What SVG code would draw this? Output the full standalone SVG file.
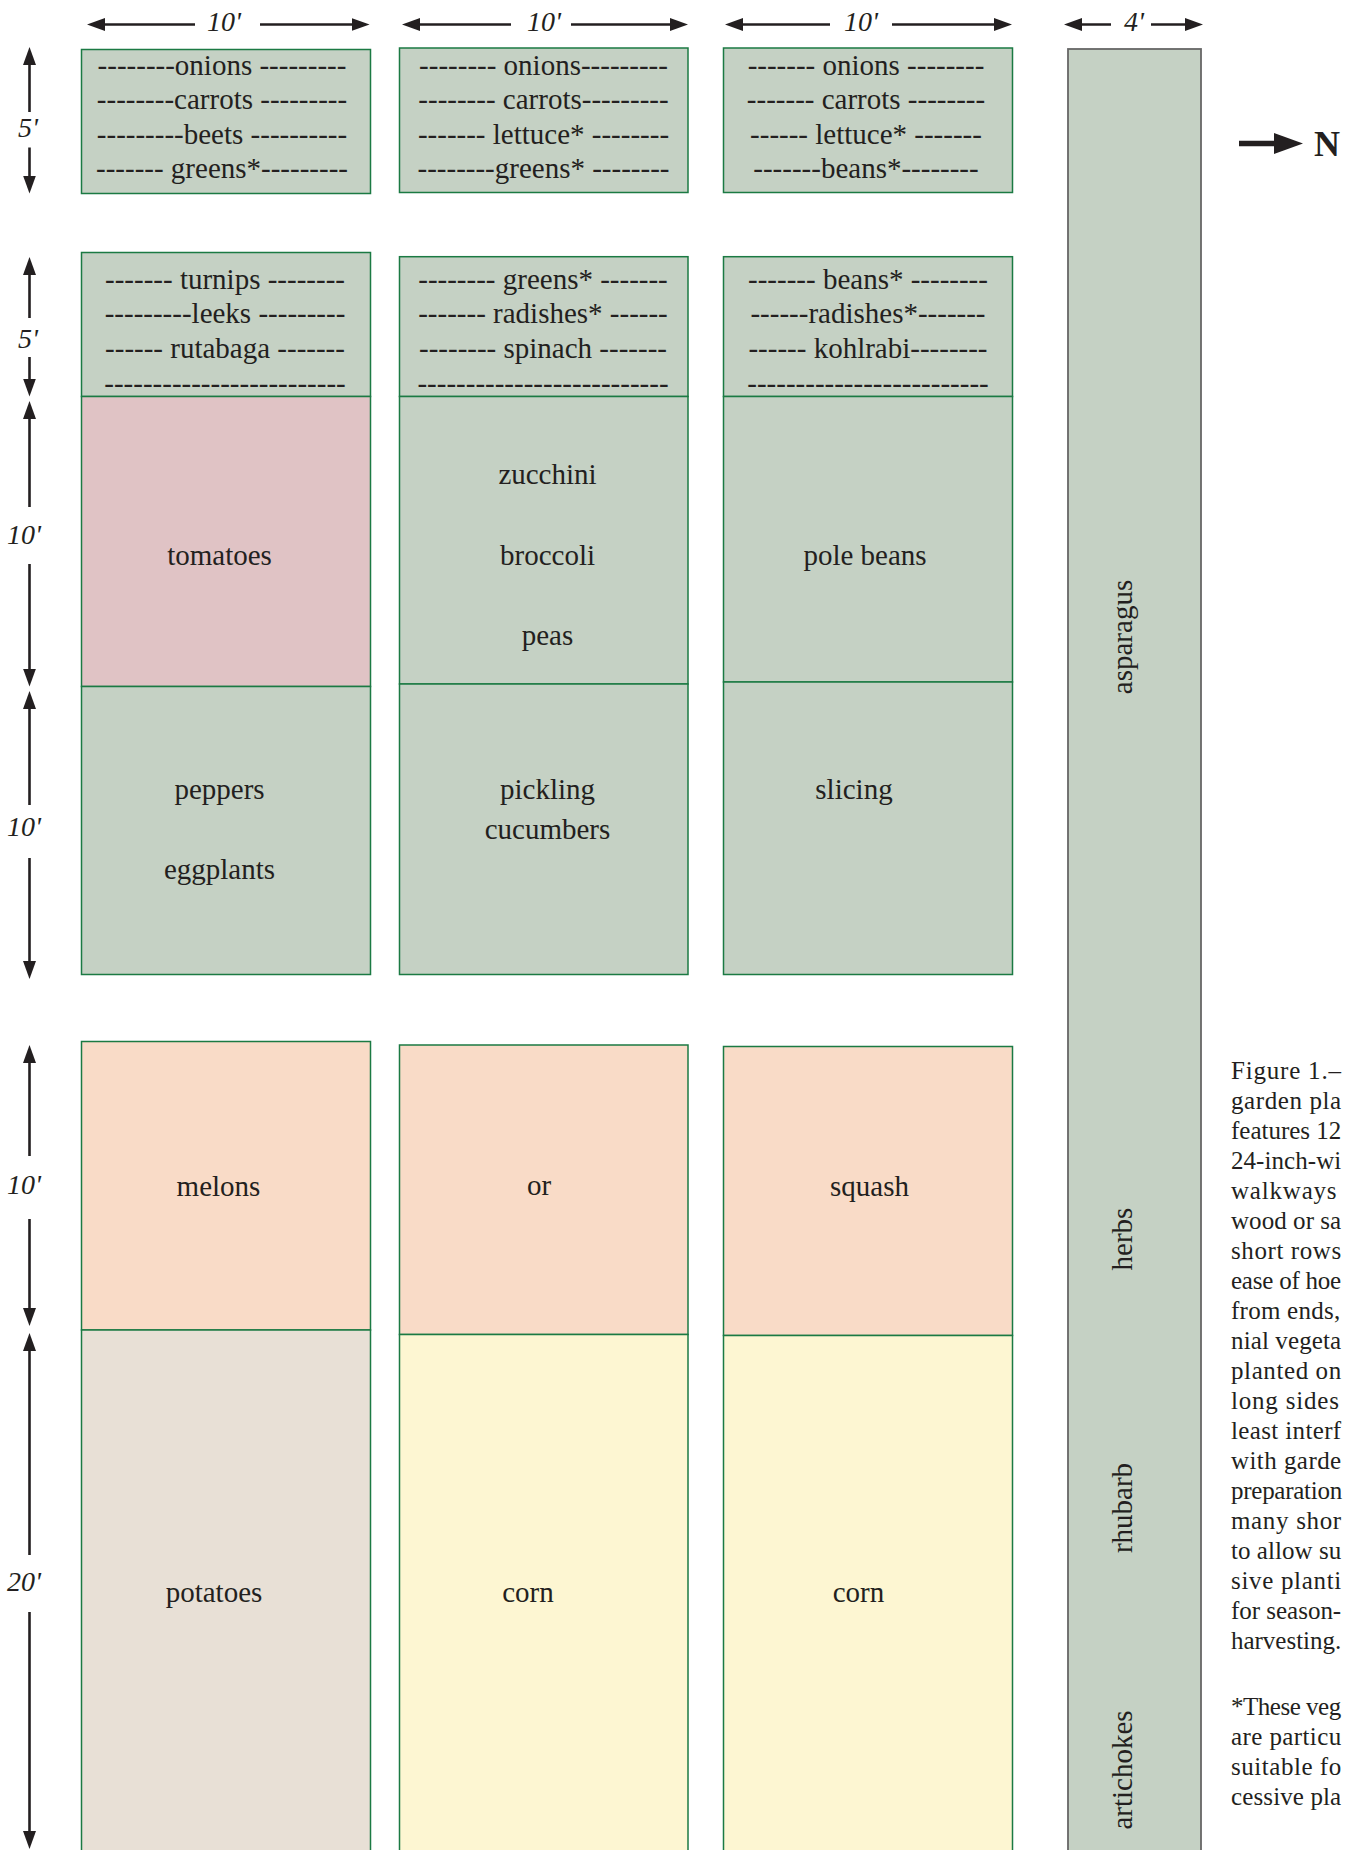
<svg xmlns="http://www.w3.org/2000/svg" width="1345" height="1850" viewBox="0 0 1345 1850">
<style>
.bed{stroke:#1b7a43;stroke-width:1.5}
.sage{fill:#c5d1c4}
.pink{fill:#e0c3c5}
.peach{fill:#f9dbc7}
.potato{fill:#e8e0d6}
.corn{fill:#fdf6d2}
.strip{fill:#c5d1c4;stroke:#666;stroke-width:1.8}
.t{font-family:"Liberation Serif","Times New Roman",serif;font-size:29px;fill:#231f20;text-anchor:middle}
.dim{font-family:"Liberation Serif","Times New Roman",serif;font-size:28px;font-style:italic;fill:#231f20;text-anchor:middle}
.cap{font-family:"Liberation Serif","Times New Roman",serif;font-size:25px;letter-spacing:0.8px;fill:#231f20}
.arr{stroke:#231f20;stroke-width:2.6;fill:none;marker-end:url(#ah)}
</style>
<defs>
<marker id="ah" viewBox="0 0 18 13" markerWidth="18" markerHeight="13" refX="12" refY="6.5" orient="auto" markerUnits="userSpaceOnUse">
<path d="M0,0 L18,6.5 L0,13 z" fill="#231f20"/>
</marker>
</defs>
<rect width="1345" height="1850" fill="#ffffff"/>

<g id="connectors">
<path class="arr" d="M195,24.5 L93,24.5"/>
<path class="arr" d="M260,24.5 L363.6,24.5"/>
<path class="arr" d="M511,24.5 L408,24.5"/>
<path class="arr" d="M571,24.5 L682,24.5"/>
<path class="arr" d="M830,24.5 L731,24.5"/>
<path class="arr" d="M892,24.5 L1006,24.5"/>
<path class="arr" d="M1111,24.5 L1070,24.5"/>
<path class="arr" d="M1151,24.5 L1197,24.5"/>
<path class="arr" d="M29.5,112 L29.5,53"/>
<path class="arr" d="M29.5,147.5 L29.5,187.5"/>
<path class="arr" d="M29.5,318 L29.5,263"/>
<path class="arr" d="M29.5,357 L29.5,390.5"/>
<path class="arr" d="M29.5,507 L29.5,407"/>
<path class="arr" d="M29.5,564 L29.5,680.6"/>
<path class="arr" d="M29.5,805 L29.5,697"/>
<path class="arr" d="M29.5,858 L29.5,973"/>
<path class="arr" d="M29.5,1156 L29.5,1051"/>
<path class="arr" d="M29.5,1219 L29.5,1320"/>
<path class="arr" d="M29.5,1555 L29.5,1339"/>
<path class="arr" d="M29.5,1612 L29.5,1843"/>
<path d="M1239,143.5 L1280,143.5" stroke="#231f20" stroke-width="5.5" fill="none"/>
<path d="M1274,133 L1303,143.5 L1274,154 z" fill="#231f20"/>
</g>

<g id="dimensions">
<text class="dim" x="224" y="30.5">10'</text>
<text class="dim" x="544" y="30.5">10'</text>
<text class="dim" x="861" y="30.5">10'</text>
<text class="dim" x="1134" y="30.5">4'</text>
<text class="dim" x="28" y="137">5'</text>
<text class="dim" x="28" y="348">5'</text>
<text class="dim" x="24" y="544">10'</text>
<text class="dim" x="24" y="836">10'</text>
<text class="dim" x="24" y="1194">10'</text>
<text class="dim" x="24" y="1591">20'</text>
<text x="1314" y="156" font-family="Liberation Serif, Times New Roman, serif" font-size="36" font-weight="bold" fill="#231f20">N</text>
</g>

<g id="strip">
<rect class="strip" x="1068" y="49" width="133" height="1830"/>
<text class="t" transform="translate(1132,637) rotate(-90)">asparagus</text>
<text class="t" transform="translate(1132,1239) rotate(-90)">herbs</text>
<text class="t" transform="translate(1132,1508) rotate(-90)">rhubarb</text>
<text class="t" transform="translate(1132,1770) rotate(-90)">artichokes</text>
</g>

<g id="c1r1">
<rect class="bed sage" x="81.5" y="49.5" width="289" height="144"/>
<text class="t" x="222" y="74.5">--------onions ---------</text>
<text class="t" x="222" y="108.5">--------carrots ---------</text>
<text class="t" x="222" y="143.5">---------beets ----------</text>
<text class="t" x="222" y="178">------- greens*---------</text>
</g>
<g id="c2r1">
<rect class="bed sage" x="399.5" y="48" width="288.5" height="144.5"/>
<text class="t" x="543.5" y="74.5">-------- onions---------</text>
<text class="t" x="543.5" y="108.5">-------- carrots---------</text>
<text class="t" x="543.5" y="143.5">------- lettuce* --------</text>
<text class="t" x="543.5" y="178">--------greens* --------</text>
</g>
<g id="c3r1">
<rect class="bed sage" x="723.5" y="48" width="289" height="144.5"/>
<text class="t" x="866" y="74.5">------- onions --------</text>
<text class="t" x="866" y="108.5">------- carrots --------</text>
<text class="t" x="866" y="143.5">------ lettuce* -------</text>
<text class="t" x="866" y="178">-------beans*--------</text>
</g>

<g id="c1r2">
<rect class="bed sage" x="81.5" y="252.5" width="289" height="144"/>
<text class="t" x="225" y="289">------- turnips --------</text>
<text class="t" x="225" y="323">---------leeks ---------</text>
<text class="t" x="225" y="357.5">------ rutabaga -------</text>
<text class="t" x="225" y="393">-------------------------</text>
</g>
<g id="c2r2">
<rect class="bed sage" x="399.5" y="256.7" width="288.5" height="139.8"/>
<text class="t" x="543" y="289">-------- greens* -------</text>
<text class="t" x="543" y="323">------- radishes* ------</text>
<text class="t" x="543" y="357.5">-------- spinach -------</text>
<text class="t" x="543" y="393">--------------------------</text>
</g>
<g id="c3r2">
<rect class="bed sage" x="723.5" y="256.7" width="289" height="139.8"/>
<text class="t" x="868" y="289">------- beans* --------</text>
<text class="t" x="868" y="323">------radishes*-------</text>
<text class="t" x="868" y="357.5">------ kohlrabi--------</text>
<text class="t" x="868" y="393">-------------------------</text>
</g>

<g id="tomatoes">
<rect class="bed pink" x="81.5" y="396.5" width="289" height="290"/>
<text class="t" x="219.5" y="564.5">tomatoes</text>
</g>
<g id="zucchini-broccoli-peas">
<rect class="bed sage" x="399.5" y="396.5" width="288.5" height="287.5"/>
<text class="t" x="547.5" y="484">zucchini</text>
<text class="t" x="547.5" y="564.5">broccoli</text>
<text class="t" x="547.5" y="644.5">peas</text>
</g>
<g id="pole-beans">
<rect class="bed sage" x="723.5" y="396.5" width="289" height="285.5"/>
<text class="t" x="865" y="564.5">pole beans</text>
</g>

<g id="peppers">
<rect class="bed sage" x="81.5" y="686.5" width="289" height="288"/>
<text class="t" x="219.5" y="798.5">peppers</text>
<text class="t" x="219.5" y="878.5">eggplants</text>
</g>
<g id="cucumbers">
<rect class="bed sage" x="399.5" y="684" width="288.5" height="290.5"/>
<text class="t" x="547.5" y="798.5">pickling</text>
<text class="t" x="547.5" y="838.5">cucumbers</text>
</g>
<g id="slicing">
<rect class="bed sage" x="723.5" y="682" width="289" height="292.5"/>
<text class="t" x="854" y="798.5">slicing</text>
</g>

<g id="melons">
<rect class="bed peach" x="81.5" y="1041.5" width="289" height="288.5"/>
<text class="t" x="218.5" y="1195.5">melons</text>
</g>
<g id="or">
<rect class="bed peach" x="399.5" y="1045" width="288.5" height="289.5"/>
<text class="t" x="539" y="1194.5">or</text>
</g>
<g id="squash">
<rect class="bed peach" x="723.5" y="1046.5" width="289" height="289"/>
<text class="t" x="869.5" y="1195.5">squash</text>
</g>

<g id="potatoes">
<rect class="bed potato" x="81.5" y="1330" width="289" height="540"/>
<text class="t" x="214" y="1601.5">potatoes</text>
</g>
<g id="corn1">
<rect class="bed corn" x="399.5" y="1334.5" width="288.5" height="540"/>
<text class="t" x="528" y="1601.5">corn</text>
</g>
<g id="corn2">
<rect class="bed corn" x="723.5" y="1335.5" width="289" height="540"/>
<text class="t" x="858.5" y="1601.5">corn</text>
</g>

<g id="caption">
<text class="cap" x="1231" y="1078.5">Figure 1.–</text>
<text class="cap" x="1231" y="1108.5" textLength="111" lengthAdjust="spacing">garden pla</text>
<text class="cap" x="1231" y="1138.5" textLength="111" lengthAdjust="spacing">features 12</text>
<text class="cap" x="1231" y="1168.5" textLength="111" lengthAdjust="spacing">24-inch-wi</text>
<text class="cap" x="1231" y="1198.5">walkways</text>
<text class="cap" x="1231" y="1228.5" textLength="111" lengthAdjust="spacing">wood or sa</text>
<text class="cap" x="1231" y="1258.5" textLength="111" lengthAdjust="spacing">short rows</text>
<text class="cap" x="1231" y="1288.5" textLength="111" lengthAdjust="spacing">ease of hoe</text>
<text class="cap" x="1231" y="1318.5" textLength="110" lengthAdjust="spacing">from ends,</text>
<text class="cap" x="1231" y="1348.5" textLength="111" lengthAdjust="spacing">nial vegeta</text>
<text class="cap" x="1231" y="1378.5" textLength="111" lengthAdjust="spacing">planted on</text>
<text class="cap" x="1231" y="1408.5">long sides</text>
<text class="cap" x="1231" y="1438.5" textLength="111" lengthAdjust="spacing">least interf</text>
<text class="cap" x="1231" y="1468.5" textLength="111" lengthAdjust="spacing">with garde</text>
<text class="cap" x="1231" y="1498.5" textLength="112" lengthAdjust="spacing">preparation</text>
<text class="cap" x="1231" y="1528.5" textLength="111" lengthAdjust="spacing">many shor</text>
<text class="cap" x="1231" y="1558.5" textLength="111" lengthAdjust="spacing">to allow su</text>
<text class="cap" x="1231" y="1588.5" textLength="111" lengthAdjust="spacing">sive planti</text>
<text class="cap" x="1231" y="1618.5" textLength="111" lengthAdjust="spacing">for season-</text>
<text class="cap" x="1231" y="1648.5" textLength="111" lengthAdjust="spacing">harvesting.</text>
<text class="cap" x="1231" y="1715" textLength="111" lengthAdjust="spacing">*These veg</text>
<text class="cap" x="1231" y="1745" textLength="111" lengthAdjust="spacing">are particu</text>
<text class="cap" x="1231" y="1775" textLength="111" lengthAdjust="spacing">suitable fo</text>
<text class="cap" x="1231" y="1805" textLength="111" lengthAdjust="spacing">cessive pla</text>
</g>
</svg>
